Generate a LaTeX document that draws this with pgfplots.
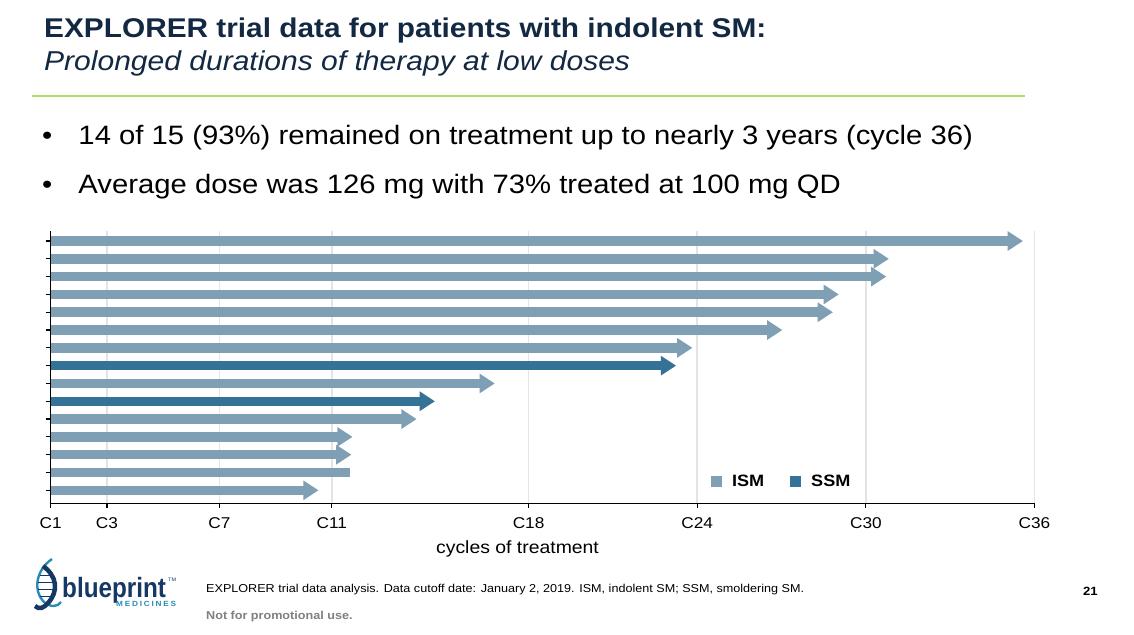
\documentclass[border=0pt]{standalone}
\usepackage{fontspec}
\setmainfont[FakeStretch=1.1]{Liberation Sans}
\newfontfamily\logofont[FakeStretch=0.87]{Liberation Sans}
\usepackage{pgfplots}
\pgfplotsset{compat=1.18}
\usetikzlibrary{arrows.meta}
\definecolor{ism}{RGB}{127,160,180}
\definecolor{ssm}{RGB}{52,114,152}
\definecolor{navy}{RGB}{19,40,66}
\definecolor{grn}{RGB}{178,220,105}
\definecolor{gridc}{RGB}{228,228,228}
\definecolor{logoblue}{RGB}{22,56,100}
\definecolor{logoteal}{RGB}{40,140,185}
\definecolor{footgray}{RGB}{128,128,128}
\newcommand{\fs}[1]{\fontsize{#1}{#1}\selectfont}
\begin{document}
\begin{tikzpicture}
\begin{scope}[x=1bp,y=1bp]
\fill[white] (0,0) rectangle (1134,-635);
\useasboundingbox (0,0) rectangle (1134,-635);
% titles
\node[anchor=base west, inner sep=0, font=\fs{27.2}\bfseries, text=navy] at (44,-37.7) {EXPLORER trial data for patients with indolent SM:};
\node[anchor=base west, inner sep=0, font=\fs{27.4}\itshape, text=navy] at (44,-71) {Prolonged durations of therapy at low doses};
\draw[grn, line width=1.8bp] (32,-95.7) -- (1025,-95.7);
% bullets
\node[anchor=base west, inner sep=0, font=\fs{26.5}] at (42,-145) {\textbullet};
\node[anchor=base west, inner sep=0, font=\fs{26.7}] at (78.3,-145) {14 of 15 (93\%) remained on treatment up to nearly 3 years (cycle 36)};
\node[anchor=base west, inner sep=0, font=\fs{26.5}] at (42,-194) {\textbullet};
\node[anchor=base west, inner sep=0, font=\fs{26.7}] at (78.3,-194) {Average dose was 126 mg with 73\% treated at 100 mg QD};
\node[anchor=base, inner sep=0, font=\fs{17.7}] at (517.5,-553.3) {cycles of treatment};
% footer
\node[anchor=base west, inner sep=0, font=\fs{11.5}] at (206,-592.3) {EXPLORER trial data analysis. Data cutoff date: January 2, 2019. ISM, indolent SM; SSM, smoldering SM.};
\node[anchor=base west, inner sep=0, font=\fs{11.5}\bfseries, text=footgray] at (206,-619.3) {Not for promotional use.};
\node[anchor=base east, inner sep=0, font=\fs{12}\bfseries] at (1098,-595) {21};
% logo
\draw[logoteal, line width=2.4bp] (52,-559) .. controls (36,-570) and (33,-590) .. (43,-601) .. controls (50,-608) and (58,-607) .. (61,-602);
\draw[logoblue, line width=4.5bp] (43,-566) .. controls (57,-576) and (59,-591) .. (48,-603) .. controls (44,-608) and (39,-610) .. (35,-606);
\draw[logoblue, line width=1bp] (40,-575) -- (52,-575) (38,-582) -- (55,-582) (38,-589) -- (55,-589) (40,-596) -- (52,-596);
\node[anchor=base west, inner sep=0, font=\logofont\fs{28}\bfseries, text=logoblue] at (62,-597.7) {blueprint};
\node[anchor=base west, inner sep=0, font=\fs{5}, text=logoblue] at (168,-581) {TM};
\node[anchor=base west, inner sep=0, font=\fs{7.5}\bfseries\addfontfeatures{LetterSpace=24}, text=logoteal] at (116,-606.5) {MEDICINES};
\end{scope}

\begin{axis}[
  at={(50.7bp,-503.3bp)}, anchor=south west,
  scale only axis, width=983.8bp, height=272.8bp,
  xmin=1, xmax=36, ymin=0.27, ymax=15.59,
  axis x line*=bottom, axis y line*=left,
  axis line style={-, line width=1.5bp, black},
  tick align=outside, major tick length=5bp,
  tick style={black, line width=1.2bp},
  xtick={1,3,7,11,18,24,30,36},
  xticklabels={C1,C3,C7,C11,C18,C24,C30,C36},
  ytick={1,...,15}, yticklabels={},
  xmajorgrids, grid style={gridc, line width=1.5bp},
  xticklabel style={font=\fs{15.7}, anchor=base, yshift=-20bp},
  clip=false,
  legend columns=2,
  legend style={draw=none, fill=none, at={(0.671,0.0817)}, anchor=west,
    font=\fs{16.5}\bfseries, inner sep=0pt,
    nodes={inner sep=0pt},
    /tikz/every even column/.append style={column sep=26bp}},
  legend image code/.code={\fill[#1, draw=none, line width=0pt] (0bp,-5.5bp) rectangle (11bp,5.5bp); \path[draw=none, fill=none] (0bp,0bp) (21bp,0bp);},
]
\addplot[ism, forget plot, line width=9.5bp, -{Triangle[length=15.3bp, width=18.7bp]}] coordinates {(1,15) (35.59,15)};
\addplot[ism, forget plot, line width=9.5bp, -{Triangle[length=15.3bp, width=18.7bp]}] coordinates {(1,14) (30.82,14)};
\addplot[ism, forget plot, line width=9.5bp, -{Triangle[length=15.3bp, width=18.7bp]}] coordinates {(1,13) (30.73,13)};
\addplot[ism, forget plot, line width=9.5bp, -{Triangle[length=15.3bp, width=18.7bp]}] coordinates {(1,12) (29.04,12)};
\addplot[ism, forget plot, line width=9.5bp, -{Triangle[length=15.3bp, width=18.7bp]}] coordinates {(1,11) (28.83,11)};
\addplot[ism, forget plot, line width=9.5bp, -{Triangle[length=15.3bp, width=18.7bp]}] coordinates {(1,10) (27.03,10)};
\addplot[ism, forget plot, line width=9.5bp, -{Triangle[length=15.3bp, width=18.7bp]}] coordinates {(1,9) (23.83,9)};
\addplot[ssm, forget plot, line width=9.5bp, -{Triangle[length=15.3bp, width=18.7bp]}] coordinates {(1,8) (23.25,8)};
\addplot[ism, forget plot, line width=9.5bp, -{Triangle[length=15.3bp, width=18.7bp]}] coordinates {(1,7) (16.80,7)};
\addplot[ssm, forget plot, line width=9.5bp, -{Triangle[length=15.3bp, width=18.7bp]}] coordinates {(1,6) (14.67,6)};
\addplot[ism, forget plot, line width=9.5bp, -{Triangle[length=15.3bp, width=18.7bp]}] coordinates {(1,5) (14.02,5)};
\addplot[ism, forget plot, line width=9.5bp, -{Triangle[length=15.3bp, width=18.7bp]}] coordinates {(1,4) (11.74,4)};
\addplot[ism, forget plot, line width=9.5bp, -{Triangle[length=15.3bp, width=18.7bp]}] coordinates {(1,3) (11.70,3)};
\addplot[ism, forget plot, line width=9.5bp] coordinates {(1,2) (11.64,2)};
\addplot[ism, forget plot, line width=9.5bp, -{Triangle[length=15.3bp, width=18.7bp]}] coordinates {(1,1) (10.53,1)};
\addlegendimage{ism}
\addlegendentry{ISM}
\addlegendimage{ssm}
\addlegendentry{SSM}
\end{axis}
\end{tikzpicture}
\end{document}
